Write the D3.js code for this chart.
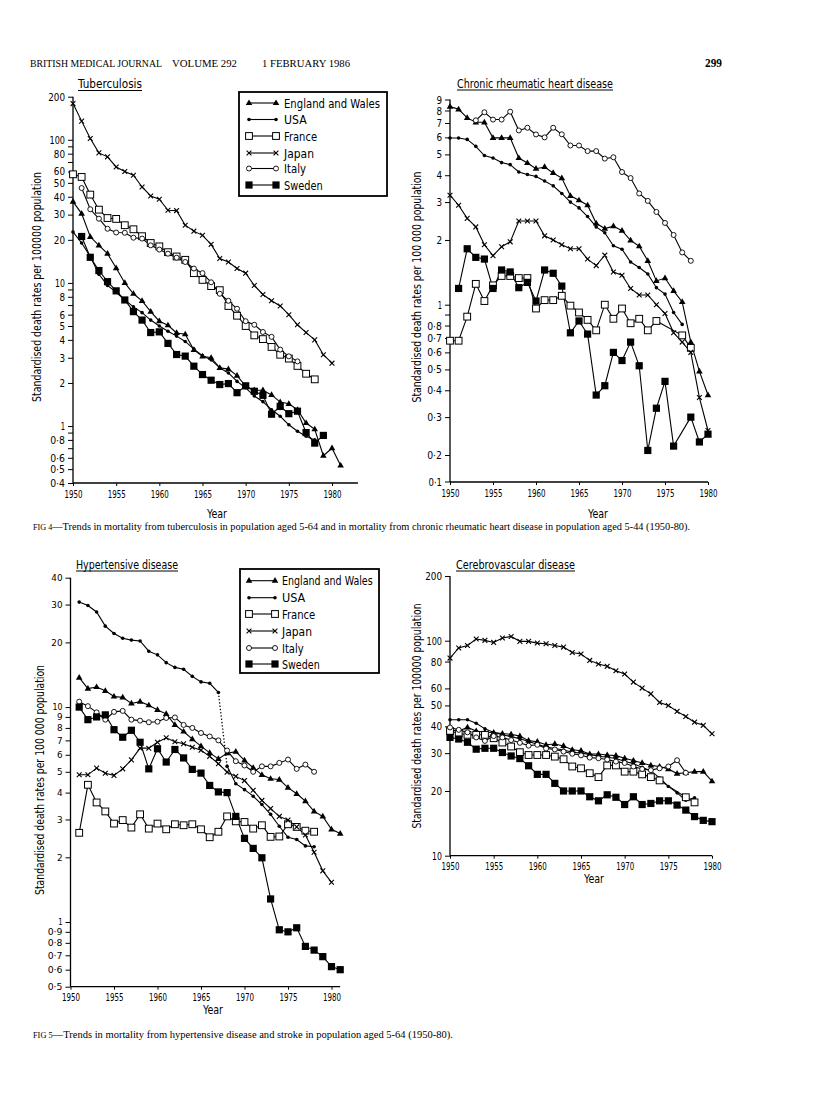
<!DOCTYPE html>
<html><head><meta charset="utf-8">
<script src="https://cdn.jsdelivr.net/npm/d3@7/dist/d3.min.js"></script>
<style>html,body{margin:0;padding:0;background:#fff;} svg{display:block;}</style>
</head><body>
<svg id="page" width="816" height="1115" xmlns="http://www.w3.org/2000/svg"></svg>
<script>
// ---------------- DATA ----------------
const years = [1950,1951,1952,1953,1954,1955,1956,1957,1958,1959,1960,1961,1962,1963,1964,1965,
               1966,1967,1968,1969,1970,1971,1972,1973,1974,1975,1976,1977,1978,1979,1980,1981];
const countries = ["England and Wales","USA","France","Japan","Italy","Sweden"];
const markerTypes = ["tri","dot","osq","x","ocirc","fsq"];
const xTickYears = [1950,1955,1960,1965,1970,1975,1980];

// Tuberculosis (aged 5-64)
const tbEngland = [37,30.5,21,18.3,16.0,12.7,10.0,8.4,7.5,6.3,5.4,5.06,4.47,4.38,3.4,3.07,3.0,2.55,2.5,2.25,1.9,1.78,1.78,1.65,1.47,1.43,1.3,1.05,0.95,0.62,0.70,0.53];
const tbUSA     = [22.7,19,15.3,11.5,9.6,8.6,7.6,6.8,6.2,5.5,5.0,4.6,4.25,3.9,3.45,3.1,2.9,2.55,2.35,2.05,1.85,1.62,1.48,1.3,1.17,1.02,0.92,0.85,0.8,null,null,null];
const tbFrance  = [57.4,55,41.4,32.5,28.4,28,25.3,23.7,21.2,19,18.0,16.4,15.3,14.5,11.7,10.5,9.5,8.9,6.9,5.9,5.0,4.3,4.05,3.57,3.15,2.96,2.63,2.32,2.12,null,null,null];
const tbJapan   = [179,135,102,81,76,64.6,60,56.5,46.8,40.5,38.4,32.2,32,25.3,23,21.5,18.6,14.8,14.0,12.6,11.7,9.6,8.3,7.5,6.9,6.0,5.1,4.5,4.0,3.15,2.75,null];
const tbItaly   = [null,46,32.7,28.1,23.9,22.5,22.4,20.7,20.4,18.3,17.1,16.0,15.0,14.0,12.6,11.7,10.1,8.4,7.5,6.6,5.4,5.1,4.54,4.2,3.42,3.07,2.83,null,null,null,null,null];
const tbSweden  = [null,21.1,15.1,12.2,10.2,8.8,7.6,6.3,5.5,4.5,4.55,3.78,3.16,3.08,2.62,2.29,2.09,1.95,1.98,1.71,1.91,1.75,1.64,1.21,1.37,1.22,1.27,0.90,0.76,0.86,null,null];
const tbTicks = [200,100,80,60,50,40,30,20,10,8,6,5,4,3,2,1,0.8,0.6,0.5,0.4];
const tbMinorTicks = [90,70,9,7,0.9,0.7];

// Chronic rheumatic heart disease (aged 5-44)
const rhEngland = [8.34,8.1,7.39,7.05,7.05,5.97,5.97,5.97,4.81,4.56,4.29,4.37,4.1,3.88,3.21,3.06,2.9,2.39,2.26,2.32,2.21,1.99,1.87,1.6,1.29,1.33,1.16,1.03,0.67,0.49,0.38,null];
const rhUSA     = [5.96,5.96,5.87,5.45,4.94,4.81,4.58,4.48,4.14,4.03,3.95,3.76,3.57,3.29,3.0,2.82,2.57,2.3,2.16,1.88,1.81,1.58,1.49,1.39,1.2,1.12,0.92,0.81,null,null,null,null];
const rhFrance  = [0.68,0.68,0.88,1.25,1.04,1.23,1.36,1.36,1.33,1.33,0.96,1.05,1.05,1.1,0.99,0.92,0.85,0.76,1.0,0.86,0.96,0.82,0.86,0.76,0.84,null,null,0.72,0.63,null,null,null];
const rhJapan   = [3.23,2.9,2.52,2.3,1.9,1.69,1.86,1.96,2.45,2.45,2.45,2.09,2.0,1.9,1.82,1.82,1.63,1.52,1.7,1.42,1.37,1.19,1.11,1.11,1.0,0.91,0.74,0.67,0.6,0.37,0.26,null];
const rhItaly   = [null,null,null,7.2,7.85,7.26,7.26,7.9,6.46,6.65,6.19,6.0,6.65,6.2,5.5,5.5,5.18,5.18,4.78,4.85,4.14,3.88,3.29,3.04,2.7,2.4,2.11,1.75,1.6,null,null,null];
const rhSweden  = [null,1.19,1.82,1.66,1.63,1.19,1.45,1.42,1.2,1.27,1.04,1.45,1.4,1.22,0.74,0.84,0.73,0.38,0.42,0.6,0.55,0.67,0.52,0.21,0.33,0.44,0.22,null,0.30,0.23,0.25,null];
const rhTicks = [9,8,7,6,5,4,3,2,1,0.8,0.7,0.6,0.5,0.4,0.3,0.2];
const rhMinorTicks = [0.9];
const rhBrokenTick = [0.1];

// Hypertensive disease (aged 5-64)
const hyEngland = [null,13.7,12.2,12.4,11.9,11.2,11.1,10.4,10.6,10.2,9.7,9.3,8.26,7.7,7.1,6.58,6.12,5.74,6.1,6.2,5.65,5.22,4.84,4.64,4.6,4.22,3.95,3.65,3.27,3.1,2.7,2.58];
const hyUSA     = [null,30.8,29.7,27.7,23.8,22,20.9,20.5,20.3,18.2,17.5,16.1,15.3,15.0,13.9,13.1,12.9,11.7,5.3,4.4,4.13,3.85,3.52,3.17,2.79,2.48,2.42,2.26,2.24,null,null,null];
const hyUSABreakYear = 1968;
const hyFrance  = [null,2.6,4.35,3.6,3.27,2.87,2.98,2.75,3.17,2.72,2.87,2.7,2.85,2.82,2.85,2.7,2.48,2.63,3.1,2.94,2.92,2.72,2.82,2.49,2.5,2.85,2.77,2.66,2.63,null,null,null];
const hyJapan   = [null,4.84,4.84,5.2,4.92,4.81,5.16,5.68,6.44,6.44,6.86,7.2,6.9,6.75,6.5,6.3,5.9,5.45,4.98,4.76,4.55,4.1,3.68,3.37,3.1,2.98,2.77,2.54,2.11,1.73,1.53,null];
const hyItaly   = [null,10.6,10.1,9.45,8.74,9.5,9.6,8.74,8.65,8.5,8.55,8.9,8.95,8.26,8.0,7.58,7.3,7.0,6.28,5.6,5.35,5.0,5.3,5.3,5.5,5.7,5.16,5.4,5.0,null,null,null];
const hySweden  = [null,10,8.74,9.0,9.2,7.85,7.24,7.8,6.86,5.16,6.4,5.55,6.35,5.8,5.13,4.93,4.32,4.03,4.0,3.1,2.45,2.2,1.99,1.28,0.92,0.90,0.94,0.77,0.74,0.69,0.62,0.6];
const hyTicks = [40,30,20,10,9,8,7,6,5,4,3,2,1,0.9,0.8,0.7,0.6,0.5];

// Cerebrovascular disease (aged 5-64)
const cvEngland = [38.5,38,39.5,38,37.5,37.4,37.0,36.7,36.0,34.3,33.9,32.8,33.1,32.4,31.1,30.8,29.7,29.7,29.4,29.2,28.4,27.7,27.0,26.3,26.0,25.3,24.1,24.3,24.6,24.6,22.2,null];
const cvUSA     = [42.9,42.9,42.9,41.3,38.9,37.4,36.5,35.8,35.0,34.0,33.0,32.0,31.5,31.0,30.3,30.0,29.6,29.0,28.7,28.3,27.5,26.8,25.8,24.8,23.0,21.0,19.6,18.1,18.6,null,null,null];
const cvFrance  = [38,37,36.5,36.5,36.5,35.2,33.6,32.2,30.3,29.4,29.4,29.4,28.9,28.1,26.0,25.5,24.2,23.2,26.3,26.3,24.6,24.6,23.9,23.2,22.4,null,null,18.7,17.7,null,null,null];
const cvJapan   = [83,92.5,95,101.8,100.4,98.2,103,104.7,99.3,99.3,97.5,96.8,95,93.4,88.2,86.7,81,77.9,76,72.5,70,64.2,60.2,56.6,51.6,50,46.9,44.4,41.8,40.4,36.9,null];
const cvItaly   = [39.5,38.5,37.5,35.5,34.2,36.0,35.5,34.5,33.5,32.5,32.8,31.5,31.2,30.5,29.8,29.3,28.6,28.4,28.0,27.4,27.0,26.0,25.3,25.0,25.5,26.0,27.8,24.3,null,null,null,null];
const cvSweden  = [35.5,34.9,33.7,31.3,31.6,31.6,30.2,29.1,28.3,26.2,23.9,23.9,21.7,20.0,20.0,20.0,18.8,18.0,19.2,18.7,17.3,18.8,17.3,17.5,18.0,18.0,17.2,16.3,15.2,14.6,14.4,null];
const cvTicks = [200,100,80,60,50,40,30,20,10];

// ---------------- DRAWING ----------------
const SANS = '"DejaVu Sans Condensed","DejaVu Sans",sans-serif';
const SERIF = '"Liberation Serif","DejaVu Serif",serif';
const svg = d3.select('#page');
svg.append('rect').attr('width',816).attr('height',1115).attr('fill','#fff');

const dotFmt = v => String(v).replace('.', '\u00B7');
// approximate printed width of a tick label (narrow face)
const labelWidth = s => Array.from(s).reduce((w,ch) => w + (ch === '1' ? 4.3 : ch === '\u00B7' ? 3.6 : 5.6), 0);

function drawMarker(g, type, cx, cy) {
  switch (type) {
    case 'tri':
      g.append('path').attr('d',`M${cx},${cy-3.6}L${cx+3.3},${cy+2.1}L${cx-3.3},${cy+2.1}Z`).attr('fill','#000'); break;
    case 'dot':
      g.append('circle').attr('cx',cx).attr('cy',cy).attr('r',1.8).attr('fill','#000'); break;
    case 'osq':
      g.append('rect').attr('x',cx-3.4).attr('y',cy-3.4).attr('width',6.8).attr('height',6.8)
        .attr('fill','#fff').attr('stroke','#000').attr('stroke-width',1); break;
    case 'x':
      g.append('path').attr('d',`M${cx-2.4},${cy-2.4}L${cx+2.4},${cy+2.4}M${cx-2.4},${cy+2.4}L${cx+2.4},${cy-2.4}`)
        .attr('stroke','#000').attr('stroke-width',1.1).attr('fill','none'); break;
    case 'ocirc':
      g.append('circle').attr('cx',cx).attr('cy',cy).attr('r',2.5).attr('fill','#fff').attr('stroke','#000').attr('stroke-width',0.9); break;
    case 'fsq':
      g.append('rect').attr('x',cx-3.6).attr('y',cy-3.6).attr('width',7.2).attr('height',7.2).attr('fill','#000'); break;
  }
}

function drawPanel(p) {
  const g = svg.append('g');
  const x = d3.scaleLinear().domain([1950,1980]).range(p.xr);
  const y = d3.scaleLog().domain(p.yd).range(p.yr);
  const x0 = x(1950);
  const top = y(p.yd[1]);

  // axis lines
  g.append('line').attr('x1',x0).attr('x2',x0).attr('y1',top).attr('y2',p.axisY).attr('stroke','#000').attr('stroke-width',1.3);
  g.append('line').attr('x1',x0).attr('x2',x(p.xEnd)).attr('y1',p.axisY).attr('y2',p.axisY).attr('stroke','#000').attr('stroke-width',1.3);

  // y axis ticks
  const allTicks = p.yTicks.concat(p.yMinor || []);
  const ya = d3.axisLeft(y).tickValues(allTicks)
    .tickFormat(v => p.yTicks.includes(v) ? dotFmt(v) : '')
    .tickSize(5).tickPadding(3).tickSizeOuter(0);
  const gy = g.append('g').attr('transform',`translate(${x0},0)`).call(ya);
  gy.select('.domain').remove();
  if (p.broken) {
    const bt = gy.append('g').attr('class','tick').attr('transform',`translate(0,${p.axisY})`);
    bt.append('line').attr('x2',-5).attr('stroke','#000');
    bt.append('text').attr('x',-8).attr('dy','0.32em').attr('text-anchor','end').text(dotFmt(p.broken[0]));
  }
  gy.selectAll('line').attr('stroke','#000').attr('stroke-width',1);
  gy.selectAll('text').attr('font-family',SANS).attr('font-size',p.tickFont || 11).attr('fill','#000')
    .each(function(){ const s = this.textContent; if (s) d3.select(this).attr('textLength',labelWidth(s)).attr('lengthAdjust','spacingAndGlyphs'); });

  // x axis ticks
  const xa = d3.axisBottom(x).tickValues(xTickYears).tickFormat(d3.format('d')).tickSize(3).tickPadding(4).tickSizeOuter(0);
  const gx = g.append('g').attr('transform',`translate(0,${p.axisY})`).call(xa);
  gx.select('.domain').remove();
  gx.selectAll('line').attr('stroke','#000');
  gx.selectAll('text').attr('font-family',SANS).attr('font-size',11).attr('fill','#000')
    .attr('textLength',18).attr('lengthAdjust','spacingAndGlyphs');

  // "Year"
  g.append('text').attr('x',p.yearX).attr('y',p.yearY).attr('text-anchor','middle')
    .attr('font-family',SANS).attr('font-size',11.5).attr('textLength',20).attr('lengthAdjust','spacingAndGlyphs').text('Year');

  // Y label
  g.append('text').attr('transform',`translate(${p.ylx},${p.ylyc}) rotate(-90)`).attr('text-anchor','middle')
    .attr('font-family',SANS).attr('font-size',11.5).attr('textLength',p.ylLen).attr('lengthAdjust','spacingAndGlyphs')
    .text(p.ylabel);

  // Title with underline
  g.append('text').attr('x',p.tx).attr('y',p.ty).attr('font-family',SANS).attr('font-size',12)
    .attr('textLength',p.tw).attr('lengthAdjust','spacingAndGlyphs').text(p.title);
  g.append('line').attr('x1',p.tx).attr('x2',p.tx+p.tw).attr('y1',p.ty+2.5).attr('y2',p.ty+2.5).attr('stroke','#000').attr('stroke-width',1);

  // series
  const line = d3.line().x(d=>x(d.yr)).y(d=>y(d.v));
  const pointSets = p.series.map(vals => years.map((yr,i)=>({yr, v: vals[i]})).filter(d=>d.v!=null));
  const lg = g.append('g');
  pointSets.forEach((pts, si) => {
    const br = p.breaks && p.breaks[si];
    if (br) {
      const a = pts.filter(d=>d.yr<br), b = pts.filter(d=>d.yr>=br);
      [a,b].forEach(s => lg.append('path').datum(s).attr('d',line).attr('fill','none').attr('stroke','#000').attr('stroke-width',1.1));
      lg.append('path').datum([a[a.length-1], b[0]]).attr('d',line).attr('fill','none')
        .attr('stroke','#000').attr('stroke-width',1.3).attr('stroke-dasharray','1.3,2');
    } else {
      lg.append('path').datum(pts).attr('d',line).attr('fill','none').attr('stroke','#000').attr('stroke-width',1.1);
    }
  });
  const mg = g.append('g');
  pointSets.forEach((pts, si) => pts.forEach(d => drawMarker(mg, markerTypes[si], x(d.yr), y(d.v))));
}

function drawLegend(L) {
  const g = svg.append('g');
  g.append('rect').attr('x',L.x).attr('y',L.y).attr('width',L.w).attr('height',L.h)
    .attr('fill','#fff').attr('stroke','#000').attr('stroke-width',1.8);
  countries.forEach((c,i) => {
    const ry = L.rows[i];
    g.append('line').attr('x1',L.lx1).attr('x2',L.lx2).attr('y1',ry).attr('y2',ry).attr('stroke','#000').attr('stroke-width',1.1);
    drawMarker(g, markerTypes[i], L.lx1, ry);
    drawMarker(g, markerTypes[i], L.lx2, ry);
    g.append('text').attr('x',L.tx).attr('y',ry+4.5).attr('font-family',SANS).attr('font-size',13)
      .attr('textLength',L.tl[i]).attr('lengthAdjust','spacingAndGlyphs').text(c);
  });
}

// Header
const hdr = svg.append('g').attr('font-family',SERIF).attr('fill','#000');
hdr.append('text').attr('x',30).attr('y',67).attr('font-size',9.5).attr('textLength',132).attr('lengthAdjust','spacingAndGlyphs').text('BRITISH MEDICAL JOURNAL');
hdr.append('text').attr('x',172).attr('y',67).attr('font-size',10).attr('textLength',65).attr('lengthAdjust','spacingAndGlyphs').text('VOLUME 292');
hdr.append('text').attr('x',262).attr('y',67).attr('font-size',10).attr('textLength',88).attr('lengthAdjust','spacingAndGlyphs').text('1 FEBRUARY 1986');
hdr.append('text').attr('x',705).attr('y',67).attr('font-size',12).attr('font-weight','bold').attr('textLength',17).attr('lengthAdjust','spacingAndGlyphs').text('299');

// Panels
drawPanel({
  xr:[73,332], xEnd:1983, yd:[0.4,200], yr:[483,96.7], axisY:483,
  yTicks:tbTicks, yMinor:tbMinorTicks, tickFont:10.5,
  series:[tbEngland,tbUSA,tbFrance,tbJapan,tbItaly,tbSweden],
  title:'Tuberculosis', tx:78, ty:88, tw:64,
  ylabel:'Standardised death rates per 100000 population', ylx:41, ylyc:287, ylLen:230,
  yearX:217, yearY:518
});
drawPanel({
  xr:[450,708], xEnd:1980, yd:[0.2,9], yr:[455,99.5], axisY:482,
  yTicks:rhTicks, yMinor:rhMinorTicks, broken:rhBrokenTick, tickFont:11,
  series:[rhEngland,rhUSA,rhFrance,rhJapan,rhItaly,rhSweden],
  title:'Chronic rheumatic heart disease', tx:457, ty:87.5, tw:156,
  ylabel:'Standardised death rates per 100 000 population', ylx:421, ylyc:287, ylLen:231,
  yearX:598, yearY:518
});
drawPanel({
  xr:[70.5,331.5], xEnd:1981, yd:[0.5,40], yr:[986.7,577.7], axisY:986.7,
  yTicks:hyTicks, yMinor:[], tickFont:8.6,
  series:[hyEngland,hyUSA,hyFrance,hyJapan,hyItaly,hySweden], breaks:[null,hyUSABreakYear,null,null,null,null],
  title:'Hypertensive disease', tx:76, ty:568.5, tw:102,
  ylabel:'Standardised death rates per 100 000 population', ylx:44, ylyc:780, ylLen:230,
  yearX:213, yearY:1014
});
drawPanel({
  xr:[450,712], xEnd:1980, yd:[10,200], yr:[855.7,576], axisY:855.7,
  yTicks:cvTicks, yMinor:[], tickFont:11,
  series:[cvEngland,cvUSA,cvFrance,cvJapan,cvItaly,cvSweden],
  title:'Cerebrovascular disease', tx:456, ty:568.5, tw:119,
  ylabel:'Standardised death rates per 100000 population', ylx:421, ylyc:716, ylLen:225,
  yearX:594, yearY:883
});

drawLegend({x:239,y:92,w:148,h:104,rows:[103,119.5,136,153,168.5,185],lx1:249,lx2:276,tx:284,tl:[96,22.7,33,30,22,38.7]});
drawLegend({x:240,y:569,w:139,h:104,rows:[580.7,597.7,614,631,648,664],lx1:249,lx2:275,tx:282,tl:[90.7,23.3,33.3,30,21.7,37.7]});

// Captions
const cap = svg.append('g').attr('font-family',SERIF).attr('fill','#000');
const c1 = cap.append('text').attr('x',33).attr('y',530).attr('font-size',9.5).attr('textLength',657).attr('lengthAdjust','spacingAndGlyphs');
c1.append('tspan').attr('font-size',7.5).text('FIG 4');
c1.append('tspan').text('\u2014Trends in mortality from tuberculosis in population aged 5-64 and in mortality from chronic rheumatic heart disease in population aged 5-44 (1950-80).');
const c2 = cap.append('text').attr('x',33).attr('y',1038).attr('font-size',9.5).attr('textLength',420).attr('lengthAdjust','spacingAndGlyphs');
c2.append('tspan').attr('font-size',7.5).text('FIG 5');
c2.append('tspan').text('\u2014Trends in mortality from hypertensive disease and stroke in population aged 5-64 (1950-80).');
</script>
</body></html>
